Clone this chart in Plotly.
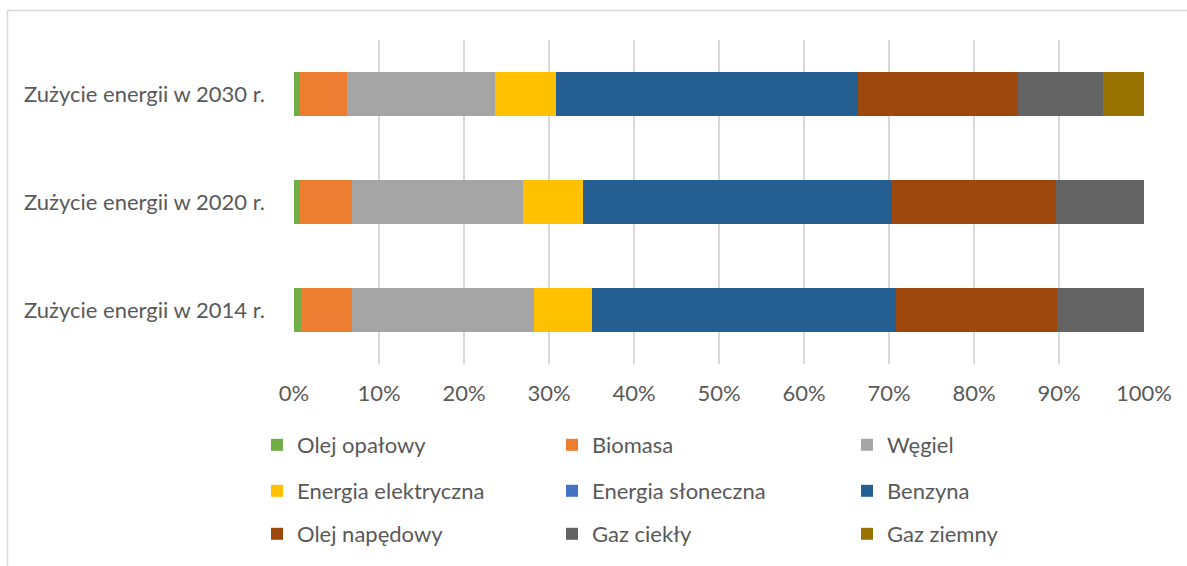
import plotly.graph_objects as go

# categories (bottom to top, as plotted)
years = ["Zużycie energii w 2014 r.", "Zużycie energii w 2020 r.", "Zużycie energii w 2030 r."]

# shares in % per fuel for 2014, 2020, 2030
olej_opalowy = [0.78, 0.74, 0.74]
biomasa = [6.02, 6.04, 5.46]
wegiel = [21.39, 20.20, 17.40]
energia_elektryczna = [6.81, 6.97, 7.20]
energia_sloneczna = [0.0, 0.0, 0.0]
benzyna = [35.80, 36.45, 35.60]
olej_napedowy = [19.00, 19.20, 18.80]
gaz_ciekly = [10.20, 10.40, 10.00]
gaz_ziemny = [0.0, 0.0, 4.80]

series = [
    ("Olej opałowy", olej_opalowy, "#70AD47", "legend"),
    ("Biomasa", biomasa, "#ED7D31", "legend"),
    ("Węgiel", wegiel, "#A5A5A5", "legend"),
    ("Energia elektryczna", energia_elektryczna, "#FFC000", "legend2"),
    ("Energia słoneczna", energia_sloneczna, "#4472C4", "legend2"),
    ("Benzyna", benzyna, "#255E91", "legend2"),
    ("Olej napędowy", olej_napedowy, "#9E480E", "legend3"),
    ("Gaz ciekły", gaz_ciekly, "#636363", "legend3"),
    ("Gaz ziemny", gaz_ziemny, "#997300", "legend3"),
]

FONT = "Lato"
FS = 22
TEXT = "#595959"

# pixel layout of the plot area
W, H = 1187, 566
L, R, T, B = 294, 43, 40, 201
pw, ph = W - L - R, H - T - B


def px_x(p):
    return (p - L) / pw


def px_y(p):
    return (H - B - p) / ph


fig = go.Figure()
for name, vals, color, leg in series:
    fig.add_trace(go.Bar(
        y=years, x=vals, name=name, orientation="h",
        marker=dict(color=color, line=dict(width=0)),
        legend=leg,
    ))

legend_common = dict(
    orientation="h", xanchor="left", yanchor="middle",
    x=px_x(257), entrywidth=250, entrywidthmode="pixels",
    font=dict(family=FONT, size=FS, color=TEXT),
    bgcolor="rgba(0,0,0,0)", traceorder="normal",
)

fig.update_layout(
    width=W, height=H,
    barmode="stack", bargap=0.595,
    plot_bgcolor="white", paper_bgcolor="white",
    margin=dict(l=L, r=R, t=T, b=B, pad=0),
    font=dict(family=FONT, size=FS, color=TEXT),
    xaxis=dict(
        range=[0, 100], dtick=10, ticksuffix="%",
        showgrid=True, gridcolor="#D9D9D9", gridwidth=1.5,
        zeroline=False, showline=False, ticks="",
        ticklabelstandoff=14,
        tickfont=dict(family=FONT, size=FS, color=TEXT),
    ),
    yaxis=dict(
        showgrid=False, zeroline=False, showline=False, ticks="",
        ticklabelstandoff=28,
        tickfont=dict(family=FONT, size=FS, color=TEXT),
    ),
    legend=dict(legend_common, y=px_y(445)),
    legend2=dict(legend_common, y=px_y(491)),
    legend3=dict(legend_common, y=px_y(534)),
    shapes=[dict(
        type="rect", xref="paper", yref="paper",
        x0=px_x(7.5), x1=px_x(1195), y0=px_y(575), y1=px_y(10.5),
        line=dict(color="#D9D9D9", width=1.5), fillcolor="rgba(0,0,0,0)",
        layer="below",
    )],
)

# drop the browser's default 8px body margin so pixels line up
fig.write_html(
    "out.html",
    config={"displayModeBar": False},
    post_script="document.body.style.margin='0';",
)
